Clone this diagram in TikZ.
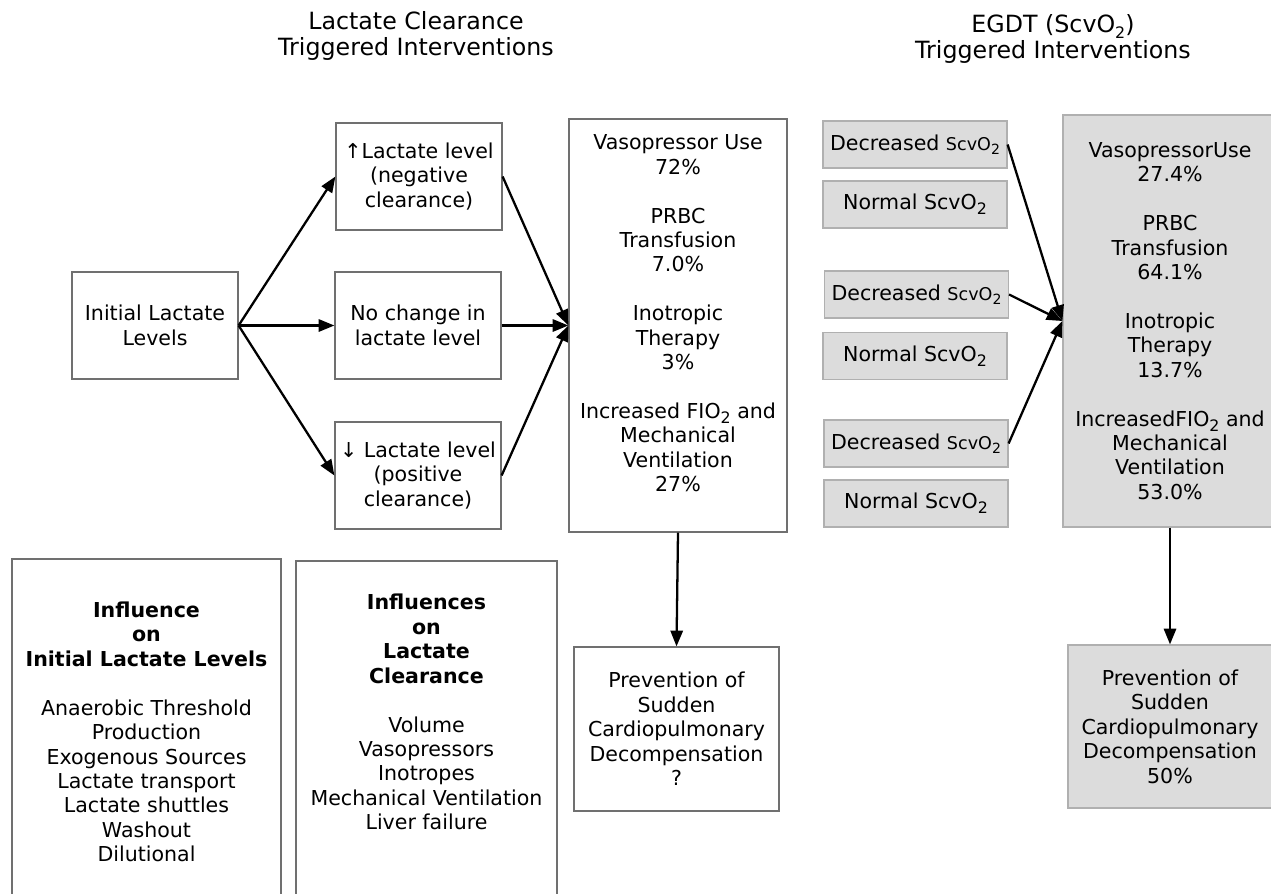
\documentclass[tikz,border=0pt]{standalone}
\usepackage{fontspec}
\setmainfont{DejaVu Sans}
\usetikzlibrary{arrows.meta}
\newcommand{\subtwo}{\raisebox{-0.45ex}{\fontsize{9}{10}\selectfont 2}}
\newcommand{\smallscv}{{\fontsize{10}{12}\selectfont ScvO\raisebox{-0.45ex}{\fontsize{8}{9}\selectfont 2}}}
\definecolor{boxgray}{HTML}{DCDCDC}
\definecolor{edgegray}{HTML}{B0B0B0}
\definecolor{linegray}{HTML}{707070}
\tikzset{
  box/.style={draw=linegray, line width=0.7pt, align=center, inner sep=0pt,
    font=\fontsize{11.7}{13.9}\selectfont},
  graybox/.style={box, draw=edgegray, fill=boxgray},
  title/.style={align=center, font=\fontsize{13.5}{15.2}\selectfont},
  link/.style={-{Triangle[length=9pt,width=7pt]}, line width=1.3pt},
}
\begin{document}
\begin{tikzpicture}[x=0.02cm, y=-0.02cm]
      \useasboundingbox (0,0) rectangle (1271,893);
      % headings
      \node[title] (lacthead) at (416,36) {Lactate Clearance\\Triggered Interventions};
      \node[title] (egdthead) at (1053,39) {EGDT (ScvO\subtwo)\\Triggered Interventions};
      % lactate side
      \node[box, minimum width=3.32cm, minimum height=2.14cm] (init) at (155,325.5)
        {Initial Lactate\\Levels};
      \node[box, minimum width=3.32cm, minimum height=2.14cm] (up) at (419,176.5)
        {↑Lactate level\\(negative\\clearance)};
      \node[box, minimum width=3.32cm, minimum height=2.14cm] (same) at (418,325.5)
        {No change in\\lactate level};
      \node[box, minimum width=3.32cm, minimum height=2.14cm] (down) at (418,475.5)
        {↓ Lactate level\\(positive\\clearance)};
      \node[box, minimum width=4.36cm, minimum height=8.26cm] (lactint) at (678,325.5)
        {Vasopressor Use\\72\%\\[13.9pt]PRBC\\Transfusion\\7.0\%\\[13.9pt]Inotropic\\Therapy\\3\%\\[13.9pt]
         Increased FIO\subtwo{} and\\Mechanical\\Ventilation\\27\%\\[0pt]\mbox{}};
      \node[box, minimum width=4.1cm, minimum height=3.28cm] (lactprev) at (676.5,729)
        {Prevention of\\Sudden\\Cardiopulmonary\\Decompensation\\?};
      \node[box, minimum width=5.38cm, minimum height=6.92cm] (inflinit) at (146.5,732)
        {\textbf{Influence}\\\textbf{on}\\\textbf{Initial Lactate Levels}\\[13.9pt]
         Anaerobic Threshold\\Production\\Exogenous Sources\\Lactate transport\\
         Lactate shuttles\\Washout\\Dilutional};
      \node[box, minimum width=5.22cm, minimum height=6.88cm] (inflclear) at (426.5,733)
        {\textbf{Influences}\\\textbf{on}\\\textbf{Lactate}\\\textbf{Clearance}\\[13.9pt]
         Volume\\Vasopressors\\Inotropes\\Mechanical Ventilation\\Liver failure\\[10pt]\mbox{}};
      % EGDT side
      \node[graybox, minimum width=3.68cm, minimum height=0.94cm] (dec1) at (915,144.5) {Decreased \smallscv};
      \node[graybox, minimum width=3.68cm, minimum height=0.94cm] (norm1) at (915,204.5) {Normal ScvO\subtwo};
      \node[graybox, minimum width=3.68cm, minimum height=0.94cm] (dec2) at (916.5,294.5) {Decreased \smallscv};
      \node[graybox, minimum width=3.68cm, minimum height=0.94cm] (norm2) at (915,356) {Normal ScvO\subtwo};
      \node[graybox, minimum width=3.68cm, minimum height=0.94cm] (dec3) at (916,443.5) {Decreased \smallscv};
      \node[graybox, minimum width=3.68cm, minimum height=0.94cm] (norm3) at (916,503.5) {Normal ScvO\subtwo};
      \node[graybox, minimum width=4.28cm, minimum height=8.24cm] (egdtint) at (1170,321)
        {VasopressorUse\\27.4\%\\[13.9pt]PRBC\\Transfusion\\64.1\%\\[13.9pt]Inotropic\\Therapy\\13.7\%\\[13.9pt]
         IncreasedFIO\subtwo{} and\\Mechanical\\Ventilation\\53.0\%};
      \node[graybox, minimum width=4.08cm, minimum height=3.26cm] (egdtprev) at (1170,726.5)
        {Prevention of\\Sudden\\Cardiopulmonary\\Decompensation\\50\%};
      \begin{scope}[link]
        \draw (init.east) to (up.west);
        \draw (init.east) to (same.west);
        \draw (init.east) to (down.west);
        \draw (up.east) to (lactint.west);
        \draw (same.east) to (lactint.west);
        \draw (down.east) to (lactint.west);
        \draw (lactint.south) to (lactprev.north);
        \draw (dec1.east) to (egdtint.west);
        \draw (dec2.east) to (egdtint.west);
        \draw (dec3.east) to (egdtint.west);
        \draw (egdtint.south) to (egdtprev.north);
      \end{scope}
    \end{tikzpicture}
\end{document}
